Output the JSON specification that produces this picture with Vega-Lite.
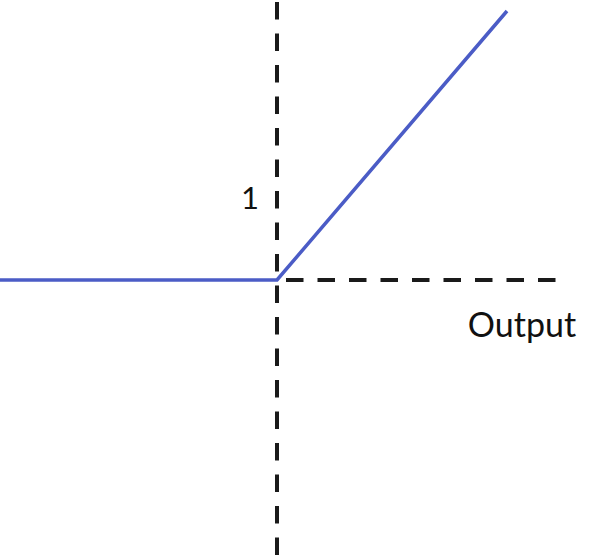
{
  "$schema": "https://vega.github.io/schema/vega-lite/v6.json",
  "autosize": {"type": "none"},
  "width": 600,
  "height": 558,
  "padding": 0,
  "background": "white",
  "config": {"view": {"stroke": null}},
  "datasets": {
    "rules": [
      {"x": 0, "y": 3.475, "x2": 0, "y2": -3.475},
      {"x": 0.1125, "y": 0, "x2": 3.4875, "y2": 0}
    ],
    "relu": [
      {"x": -3.4625, "y": 0},
      {"x": 0, "y": 0},
      {"x": 2.875, "y": 3.3625}
    ],
    "labels": [
      {"x": -0.3375, "y": 1.0, "label": "1", "size": 31},
      {"x": 3.0625, "y": -0.5875, "label": "Output", "size": 34}
    ]
  },
  "layer": [
    {
      "data": {"name": "rules"},
      "mark": {"type": "rule", "color": "#1a1a1a", "strokeWidth": 4, "strokeDash": [17.5, 14]},
      "encoding": {
        "x": {"field": "x", "type": "quantitative", "scale": {"domain": [-3.4625, 4.0375], "nice": false, "zero": false}, "axis": null},
        "y": {"field": "y", "type": "quantitative", "scale": {"domain": [-3.475, 3.5], "nice": false, "zero": false}, "axis": null},
        "x2": {"field": "x2"},
        "y2": {"field": "y2"}
      }
    },
    {
      "data": {"name": "relu"},
      "mark": {"type": "line", "color": "#4b5cc6", "strokeWidth": 3.5, "clip": false},
      "encoding": {
        "x": {"field": "x", "type": "quantitative"},
        "y": {"field": "y", "type": "quantitative"}
      }
    },
    {
      "data": {"name": "labels"},
      "mark": {"type": "text", "font": "Lato", "color": "#111111", "align": "center", "baseline": "middle"},
      "encoding": {
        "x": {"field": "x", "type": "quantitative"},
        "y": {"field": "y", "type": "quantitative"},
        "text": {"field": "label"},
        "size": {"field": "size", "type": "quantitative", "scale": null}
      }
    }
  ]
}
